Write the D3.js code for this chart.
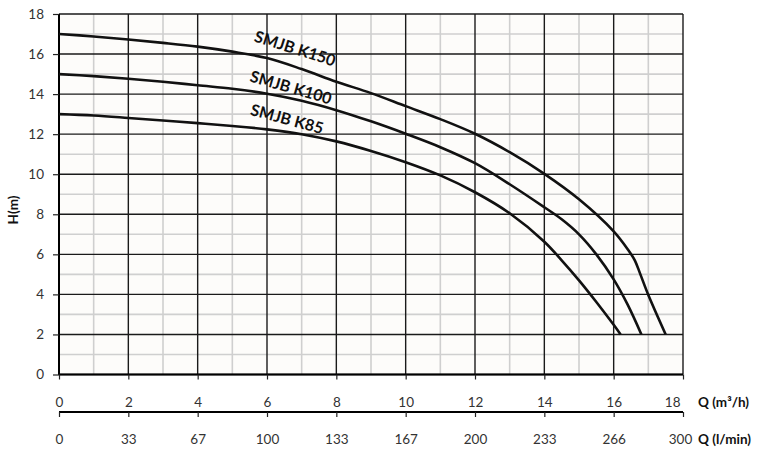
<!DOCTYPE html>
<html><head><meta charset="utf-8">
<script src="https://cdn.jsdelivr.net/npm/d3@7"></script>
<style>
html,body{margin:0;padding:0;background:#fff;}
svg{display:block;}
</style>
</head><body>
<svg id="chart" width="762" height="450"></svg>
<script>
// ---- data ----
const seriesNames = ["SMJB K150", "SMJB K100", "SMJB K85"];
const q150 = [0,1,2,3,4,5,6,7,8,9,10,11,12,13,14,15,16,16.42,16.61,16.76,17,17.5];
const h150 = [17,16.88,16.73,16.56,16.37,16.12,15.8,15.25,14.62,14.05,13.4,12.75,12.02,11.1,10.02,8.75,7.15,6.22,5.7,5.05,3.97,2.0];
const q100 = [0,1,2,3,4,5,6,7,8,9,10,11,12,13,14,14.5,15,15.5,16,16.4,16.8];
const h100 = [15,14.9,14.77,14.62,14.44,14.27,14.02,13.67,13.2,12.64,12.02,11.35,10.55,9.5,8.35,7.75,7.0,6.0,4.75,3.5,2.0];
const q85 = [0,1,2,3,4,5,6,7,8,9,10,11,12,13,14,14.5,15,15.5,16,16.2];
const h85 = [13,12.93,12.81,12.68,12.55,12.41,12.24,12.0,11.64,11.16,10.6,9.94,9.1,8.05,6.63,5.7,4.7,3.62,2.48,2.0];
const yTicks = [0,2,4,6,8,10,12,14,16,18];
const xTicks = [0,2,4,6,8,10,12,14,16,18];
const lminTicks = [0,33.33,66.67,100,133.33,166.67,200,233.33,266.67,300];
const lminLabels = ["0","33","67","100","133","167","200","233","266","300"];
const xTitle1 = "Q (m³/h)";
const xTitle2 = "Q (l/min)";
const yTitle = "H(m)";

// ---- layout ----
const svg = d3.select("#chart");
const x = d3.scaleLinear().domain([0,18]).range([59,683]);
const x2 = d3.scaleLinear().domain([0,300]).range([59,683]);
const y = d3.scaleLinear().domain([0,18]).range([374.5,14]);
const font = "Lato, 'Open Sans', sans-serif";

// plot background
svg.append("rect").attr("x", x(0)).attr("y", y(18))
  .attr("width", x(18)-x(0)).attr("height", y(0)-y(18)).attr("fill", "#fdfcfa");

// minor grid
const minor = d3.range(1,18,2);
const g = svg.append("g");
g.selectAll(".vm").data(minor).join("line")
  .attr("x1", d=>x(d)).attr("x2", d=>x(d)).attr("y1", y(0)).attr("y2", y(18))
  .attr("stroke", "#cfcfcf").attr("stroke-width", 1.6);
g.selectAll(".hm").data(minor).join("line")
  .attr("y1", d=>y(d)).attr("y2", d=>y(d)).attr("x1", x(0)).attr("x2", x(18))
  .attr("stroke", "#cfcfcf").attr("stroke-width", 1.6);
// major grid
g.selectAll(".vM").data(xTicks).join("line")
  .attr("x1", d=>x(d)).attr("x2", d=>x(d)).attr("y1", y(0)).attr("y2", y(18))
  .attr("stroke", "#1a1a1a").attr("stroke-width", 1.4);
g.selectAll(".hM").data(yTicks).join("line")
  .attr("y1", d=>y(d)).attr("y2", d=>y(d)).attr("x1", x(0)).attr("x2", x(18))
  .attr("stroke", "#1a1a1a").attr("stroke-width", 1.4);

// left and bottom axes (thicker)
svg.append("line").attr("x1", x(0)).attr("x2", x(0)).attr("y1", y(18)).attr("y2", y(0)+0.5)
  .attr("stroke", "#000").attr("stroke-width", 2);
svg.append("line").attr("x1", x(0)).attr("x2", x(18)).attr("y1", y(0)).attr("y2", y(0))
  .attr("stroke", "#000").attr("stroke-width", 2);

// y axis ticks + labels
const yAxis = d3.axisLeft(y).tickValues(yTicks).tickSize(6).tickPadding(9).tickFormat(d3.format("d"));
const ya = svg.append("g").attr("transform", `translate(${x(0)},0)`).call(yAxis);
ya.select(".domain").remove();
ya.selectAll(".tick line").attr("stroke", "#222").attr("stroke-width", 1.2);
ya.selectAll("text").attr("font-family", font).attr("font-size", 13.5).attr("fill", "#333");

// bottom primary axis (ticks below plot, labels)
const xAxis = d3.axisBottom(x).tickValues(xTicks).tickSize(5).tickPadding(18).tickFormat(d3.format("d"));
const xa = svg.append("g").attr("transform", `translate(0,${y(0)})`).call(xAxis);
xa.select(".domain").remove();
xa.selectAll(".tick line").attr("stroke", "#222").attr("stroke-width", 1.2);
xa.selectAll("text").attr("font-family", font).attr("font-size", 13.5).attr("fill", "#333");
xa.selectAll(".tick").filter(d=>d===18).select("text").attr("text-anchor", "end").attr("x", -3);

// second axis (l/min)
const x2Axis = d3.axisBottom(x2).tickValues(lminTicks).tickSize(5).tickPadding(17)
  .tickFormat((d,i)=>lminLabels[i]);
const xb = svg.append("g").attr("transform", "translate(0,412)").call(x2Axis);
xb.select(".domain").attr("d", `M${x2(0)},0H${x2(300)}`).attr("stroke", "#000").attr("stroke-width", 2);
xb.selectAll(".tick line").attr("stroke", "#222").attr("stroke-width", 1.2);
xb.selectAll("text").attr("font-family", font).attr("font-size", 13.5).attr("fill", "#333");
xb.selectAll(".tick").filter((d,i)=>i===lminTicks.length-1).select("text").attr("x", -3);

// axis titles
svg.append("text").attr("x", 698).attr("y", 407).text(xTitle1)
  .attr("font-family", font).attr("font-size", 13.5).attr("font-weight", "bold").attr("fill", "#111");
svg.append("text").attr("x", 698).attr("y", 444).text(xTitle2)
  .attr("font-family", font).attr("font-size", 13.5).attr("font-weight", "bold").attr("fill", "#111");
svg.append("text").attr("transform", "translate(17.5,210) rotate(-90)").attr("text-anchor", "middle")
  .text(yTitle).attr("font-family", font).attr("font-size", 13.5).attr("font-weight", "bold").attr("fill", "#111");

// curves
const line = d3.line().x(d=>x(d[0])).y(d=>y(d[1])).curve(d3.curveCatmullRom.alpha(0.5));
const series = [
  {name: seriesNames[0], pts: d3.zip(q150, h150), lx: 6.81, ly: 16.28, rot: 17.5},
  {name: seriesNames[1], pts: d3.zip(q100, h100), lx: 6.69, ly: 14.33, rot: 16},
  {name: seriesNames[2], pts: d3.zip(q85, h85), lx: 6.58, ly: 12.76, rot: 15}
];
svg.append("g").selectAll("path").data(series).join("path")
  .attr("d", d=>line(d.pts)).attr("fill", "none").attr("stroke", "#111")
  .attr("stroke-width", 2.6).attr("stroke-linejoin", "round");

// labels
svg.append("g").selectAll("text").data(series).join("text")
  .attr("transform", d=>`translate(${x(d.lx)},${y(d.ly)}) rotate(${d.rot})`)
  .attr("text-anchor", "middle").attr("dy", "0.35em")
  .attr("font-family", font).attr("font-size", 16).attr("font-weight", "bold").attr("fill", "#111")
  .text(d=>d.name);
</script>
</body></html>
